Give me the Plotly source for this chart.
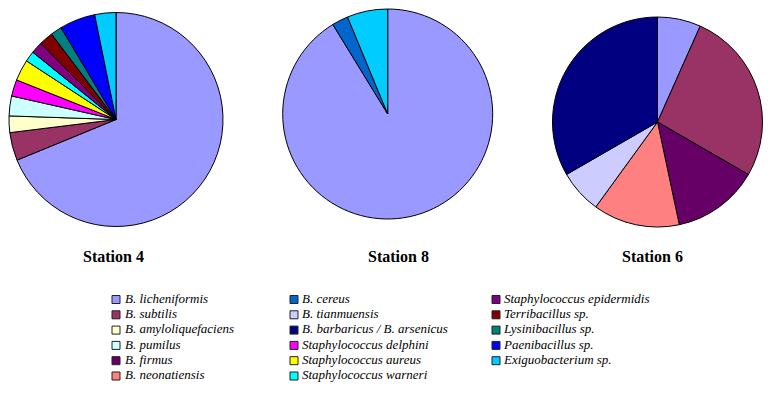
import plotly.graph_objects as go

# ---- data ----
species = [
    "B. licheniformis", "B. subtilis", "B. amyloliquefaciens", "B. pumilus",
    "B. firmus", "B. neonatiensis",
    "B. cereus", "B. tianmuensis", "B. barbaricus / B. arsenicus",
    "Staphylococcus delphini", "Staphylococcus aureus", "Staphylococcus warneri",
    "Staphylococcus epidermidis", "Terribacillus sp.", "Lysinibacillus sp.",
    "Paenibacillus sp.", "Exiguobacterium sp.",
]
colors = [
    "#9999FF", "#993366", "#FFFFCC", "#CCFFFF", "#660066", "#FF8080",
    "#0066CC", "#CCCCFF", "#000080", "#FF00FF", "#FFFF00", "#00FFFF",
    "#800080", "#800000", "#008080", "#0000FF", "#00CCFF",
]
# percentage of isolates per station (same order as species)
station4 = [68.9, 4.25, 2.5, 3.0, 0, 0, 0, 0, 0, 2.5, 3.2, 1.6, 1.8, 2.1, 1.7, 5.4, 3.2]
station8 = [91.25, 0, 0, 0, 0, 0, 2.5, 0, 0, 0, 0, 0, 0, 0, 0, 0, 6.25]
station6 = [6.67, 26.67, 0, 0, 13.33, 13.33, 0, 6.67, 33.33, 0, 0, 0, 0, 0, 0, 0, 0]
stations = [("Station 4", station4), ("Station 8", station8), ("Station 6", station6)]

# ---- layout constants (pixels) ----
W, H = 772, 399
pie_geom = [(116, 119.5, 107), (387.7, 114, 105), (657.5, 122, 105)]  # cx, cy, r
title_pos = [(113.4, 256), (398.5, 256), (652.7, 256)]
col_marker_x = [116, 294, 496]
col_text_x = [125, 302, 504]
col_of = [0] * 6 + [1] * 6 + [2] * 5
row_of = list(range(6)) + list(range(6)) + list(range(5))
row_y0, row_dy = 299.5, 15.3

SERIF = "Liberation Serif"

fig = go.Figure()

for (name, vals), (cx, cy, r) in zip(stations, pie_geom):
    idx = [i for i, v in enumerate(vals) if v > 0]
    fig.add_trace(go.Pie(
        labels=[species[i] for i in idx],
        values=[vals[i] for i in idx],
        marker=dict(colors=[colors[i] for i in idx], line=dict(color="black", width=1)),
        sort=False, direction="clockwise", rotation=0,
        textinfo="none", showlegend=False, name=name,
        domain=dict(x=[(cx - r) / W, (cx + r) / W], y=[1 - (cy + r) / H, 1 - (cy - r) / H]),
    ))

# legend keys
fig.add_trace(go.Scatter(
    x=[col_marker_x[c] for c in col_of],
    y=[row_y0 + row_dy * r for r in row_of],
    mode="markers",
    marker=dict(symbol="square", size=8, color=colors, line=dict(color="#222", width=1)),
    hoverinfo="skip", showlegend=False,
))
fig.add_trace(go.Scatter(
    x=[col_text_x[c] for c in col_of],
    y=[row_y0 + row_dy * r for r in row_of],
    mode="text", text=species, textposition="middle right",
    textfont=dict(family=SERIF, size=13, color="black", style="italic"),
    hoverinfo="skip", showlegend=False,
))

for (name, _), (tx, ty) in zip(stations, title_pos):
    fig.add_annotation(x=tx, y=ty, text="<b>%s</b>" % name, showarrow=False,
                       xref="x", yref="y", xanchor="center", yanchor="middle",
                       font=dict(family=SERIF, size=16, color="black"))

fig.update_layout(
    width=W, height=H,
    margin=dict(l=0, r=0, t=0, b=0),
    paper_bgcolor="white", plot_bgcolor="white",
    font=dict(family=SERIF),
    xaxis=dict(range=[0, W], visible=False, fixedrange=True, domain=[0, 1]),
    yaxis=dict(range=[H, 0], visible=False, fixedrange=True, domain=[0, 1]),
    showlegend=False,
)

fig.write_html("out.html", config={"displayModeBar": False},
               post_script="document.body.style.margin='0';")
